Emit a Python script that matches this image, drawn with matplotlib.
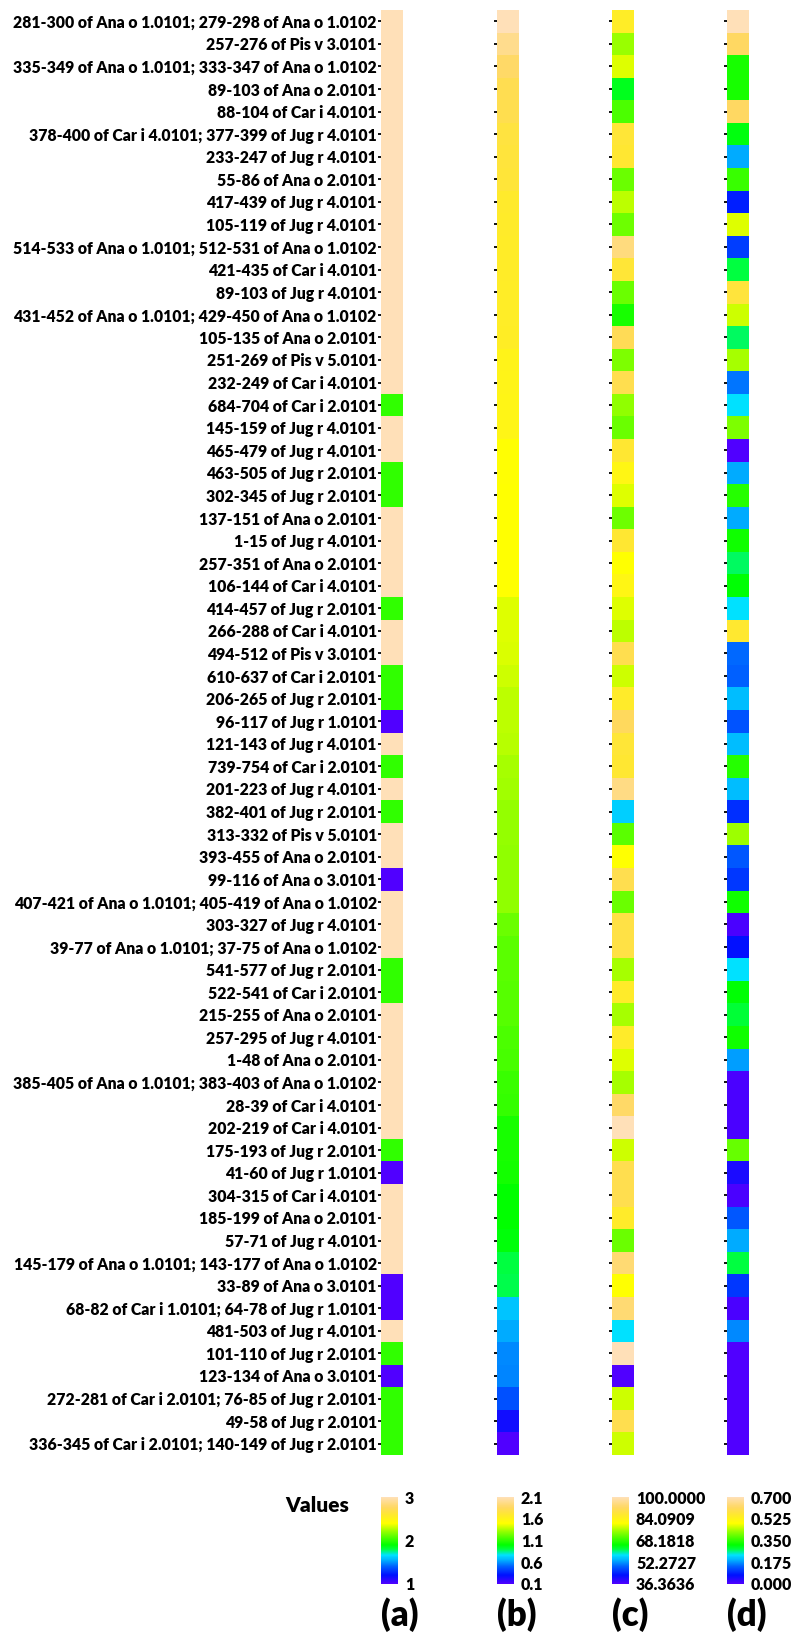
import numpy as np
import matplotlib
matplotlib.use('Agg')
import matplotlib.pyplot as plt
from matplotlib.colors import LinearSegmentedColormap, Normalize

labels = [
    '281-300 of Ana o 1.0101; 279-298 of Ana o 1.0102',
    '257-276 of Pis v 3.0101',
    '335-349 of Ana o 1.0101; 333-347 of Ana o 1.0102',
    '89-103 of Ana o 2.0101',
    '88-104 of Car i 4.0101',
    '378-400 of Car i 4.0101; 377-399 of Jug r 4.0101',
    '233-247 of Jug r 4.0101',
    '55-86 of Ana o 2.0101',
    '417-439 of Jug r 4.0101',
    '105-119 of Jug r 4.0101',
    '514-533 of Ana o 1.0101; 512-531 of Ana o 1.0102',
    '421-435 of Car i 4.0101',
    '89-103 of Jug r 4.0101',
    '431-452 of Ana o 1.0101; 429-450 of Ana o 1.0102',
    '105-135 of Ana o 2.0101',
    '251-269 of Pis v 5.0101',
    '232-249 of Car i 4.0101',
    '684-704 of Car i 2.0101',
    '145-159 of Jug r 4.0101',
    '465-479 of Jug r 4.0101',
    '463-505 of Jug r 2.0101',
    '302-345 of Jug r 2.0101',
    '137-151 of Ana o 2.0101',
    '1-15 of Jug r 4.0101',
    '257-351 of Ana o 2.0101',
    '106-144 of Car i 4.0101',
    '414-457 of Jug r 2.0101',
    '266-288 of Car i 4.0101',
    '494-512 of Pis v 3.0101',
    '610-637 of Car i 2.0101',
    '206-265 of Jug r 2.0101',
    '96-117 of Jug r 1.0101',
    '121-143 of Jug r 4.0101',
    '739-754 of Car i 2.0101',
    '201-223 of Jug r 4.0101',
    '382-401 of Jug r 2.0101',
    '313-332 of Pis v 5.0101',
    '393-455 of Ana o 2.0101',
    '99-116 of Ana o 3.0101',
    '407-421 of Ana o 1.0101; 405-419 of Ana o 1.0102',
    '303-327 of Jug r 4.0101',
    '39-77 of Ana o 1.0101; 37-75 of Ana o 1.0102',
    '541-577 of Jug r 2.0101',
    '522-541 of Car i 2.0101',
    '215-255 of Ana o 2.0101',
    '257-295 of Jug r 4.0101',
    '1-48 of Ana o 2.0101',
    '385-405 of Ana o 1.0101; 383-403 of Ana o 1.0102',
    '28-39 of Car i 4.0101',
    '202-219 of Car i 4.0101',
    '175-193 of Jug r 2.0101',
    '41-60 of Jug r 1.0101',
    '304-315 of Car i 4.0101',
    '185-199 of Ana o 2.0101',
    '57-71 of Jug r 4.0101',
    '145-179 of Ana o 1.0101; 143-177 of Ana o 1.0102',
    '33-89 of Ana o 3.0101',
    '68-82 of Car i 1.0101; 64-78 of Jug r 1.0101',
    '481-503 of Jug r 4.0101',
    '101-110 of Jug r 2.0101',
    '123-134 of Ana o 3.0101',
    '272-281 of Car i 2.0101; 76-85 of Jug r 2.0101',
    '49-58 of Jug r 2.0101',
    '336-345 of Car i 2.0101; 140-149 of Jug r 2.0101',
]

col_a = [3] * 17 + [2, 3, 3, 2, 2, 3, 3, 3, 3, 2, 3, 3, 2, 2, 1, 3, 2, 3, 2, 3, 3, 1,
                    3, 3, 3, 2, 2, 3, 3, 3, 3, 3, 3, 2, 1, 3, 3, 3, 3, 1, 1, 3, 2, 1, 2, 2, 2]

col_b = [2.10, 1.98, 1.88, 1.81, 1.80, 1.75, 1.74, 1.73, 1.68, 1.675, 1.67, 1.665, 1.66,
         1.655, 1.65, 1.60, 1.595, 1.59, 1.585, 1.51, 1.508, 1.506, 1.504, 1.502, 1.50,
         1.50, 1.44, 1.44, 1.43, 1.41, 1.38, 1.38, 1.37, 1.34, 1.33, 1.31, 1.31, 1.30,
         1.30, 1.30, 1.22, 1.19, 1.19, 1.18, 1.18, 1.16, 1.15, 1.12, 1.11, 1.05, 1.05,
         1.04, 1.00, 1.00, 0.99, 0.90, 0.89, 0.70, 0.64, 0.58, 0.57, 0.46, 0.26, 0.10]

col_c = [86.0, 74.9, 79.0, 63.7, 70.1, 87.9, 87.5, 72.0, 77.1, 72.3, 94.9, 87.9, 72.0,
         66.6, 91.1, 73.3, 90.5, 74.5, 72.0, 87.5, 83.5, 79.0, 72.3, 87.5, 80.9, 83.5,
         79.0, 77.1, 90.5, 78.0, 86.5, 92.0, 87.9, 87.5, 95.5, 56.1, 71.0, 80.9, 90.5,
         72.0, 89.5, 89.5, 75.8, 86.5, 75.8, 86.5, 79.0, 75.8, 93.0, 100.0, 78.0, 90.5,
         90.5, 86.5, 72.0, 94.0, 80.9, 94.0, 57.4, 100.0, 36.3636, 78.0, 90.5, 78.0]

col_d = [0.700, 0.616, 0.333, 0.333, 0.616, 0.308, 0.189, 0.357, 0.084, 0.469, 0.112,
         0.280, 0.574, 0.459, 0.273, 0.434, 0.154, 0.231, 0.406, 0.000, 0.189, 0.343,
         0.189, 0.326, 0.273, 0.312, 0.231, 0.560, 0.147, 0.140, 0.203, 0.130, 0.203,
         0.343, 0.203, 0.098, 0.427, 0.133, 0.105, 0.326, 0.007, 0.070, 0.231, 0.312,
         0.287, 0.326, 0.182, 0.007, 0.007, 0.007, 0.389, 0.049, 0.007, 0.133, 0.189,
         0.280, 0.105, 0.007, 0.168, 0.000, 0.000, 0.000, 0.000, 0.000]

panels = ['(a)', '(b)', '(c)', '(d)']
ranges = [(1, 3), (0.1, 2.1), (36.3636, 100.0), (0.0, 0.7)]
cbar_ticks = [[1, 2, 3],
              [0.1, 0.6, 1.1, 1.6, 2.1],
              [36.3636, 52.2727, 68.1818, 84.0909, 100.0],
              [0.0, 0.175, 0.35, 0.525, 0.7]]
cbar_fmt = ['{:.0f}', '{:.1f}', '{:.4f}', '{:.3f}']

cmap = LinearSegmentedColormap.from_list('vals', [
    (0.00, '#5000FF'), (0.10, '#0010FF'), (0.20, '#0060FF'), (0.27, '#00AAFF'),
    (0.33, '#00E2FF'), (0.40, '#00FF40'), (0.45, '#00FF00'), (0.50, '#2EFF00'),
    (0.60, '#90FF00'), (0.70, '#FFFF00'), (0.80, '#FFE830'), (0.88, '#FFD860'),
    (1.00, '#FFE0B8')])

plt.rcParams['font.family'] = ['Lato', 'DejaVu Sans']
plt.rcParams['font.weight'] = 'heavy'

W, H = 792, 1637
fig = plt.figure(figsize=(W / 100, H / 100), dpi=100)

lefts = [381, 497, 612, 727]
top, bot = 10, 1455
n = len(labels)
for i, data in enumerate([col_a, col_b, col_c, col_d]):
    ax = fig.add_axes([lefts[i] / W, 1 - bot / H, 22 / W, (bot - top) / H])
    vmin, vmax = ranges[i]
    norm = Normalize(vmin, vmax)
    ax.pcolormesh(np.array(data).reshape(-1, 1), cmap=cmap, norm=norm)
    ax.set_ylim(n, 0)
    ax.set_xticks([])
    ax.set_yticks(np.arange(n) + 0.5)
    if i == 0:
        ax.set_yticklabels(labels, fontsize=11.3, fontweight='heavy')
    else:
        ax.set_yticklabels([])
    ax.tick_params(axis='y', length=2.5, width=1.3, pad=0.5)
    for s in ax.spines.values():
        s.set_visible(False)

    cax = fig.add_axes([lefts[i] / W, 1 - 1584 / H, 17 / W, 87 / H])
    sm = plt.cm.ScalarMappable(norm=norm, cmap=cmap)
    cb = fig.colorbar(sm, cax=cax)
    cb.outline.set_visible(False)
    cb.set_ticks(cbar_ticks[i], labels=[cbar_fmt[i].format(t) for t in cbar_ticks[i]])
    cax.tick_params(length=0, pad=5, labelsize=11.5)
    for t in cax.get_yticklabels():
        t.set_fontweight('heavy')

    fig.text(lefts[i] / W, 1 - 1615 / H, panels[i], fontsize=25, fontweight='heavy',
             ha='left', va='center')

fig.text(285 / W, 1 - 1505 / H, 'Values', fontsize=15, fontweight='heavy',
         ha='left', va='center')

fig.savefig('out.png', dpi=100)
